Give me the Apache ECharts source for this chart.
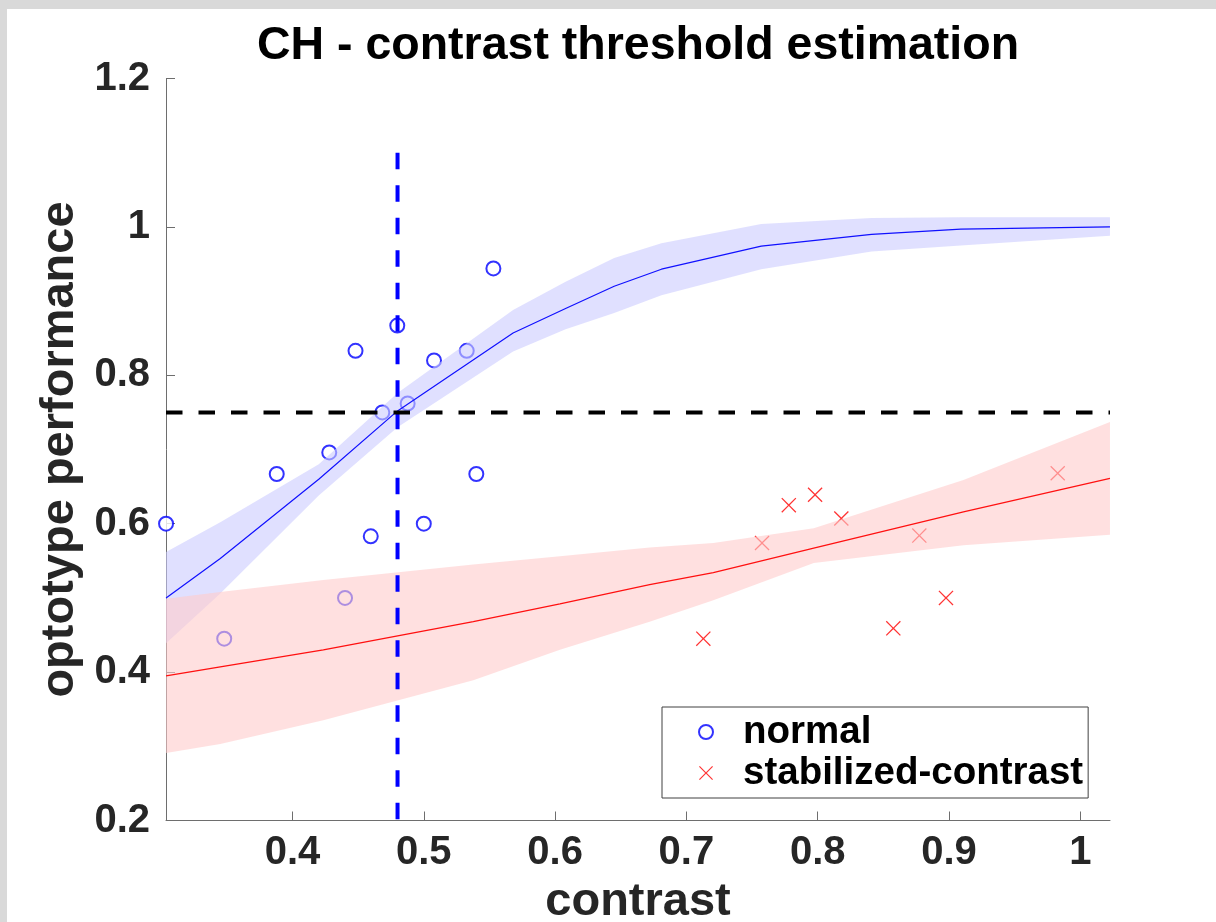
<!DOCTYPE html>
<html>
<head>
<meta charset="utf-8">
<script src="https://cdn.jsdelivr.net/npm/echarts@6/dist/echarts.min.js"></script>
<style>
  html, body { margin: 0; padding: 0; background: #d9d9d9; }
  #paper { position: absolute; left: 7px; top: 9px; width: 1209px; height: 913px; background: #ffffff; }
  #chart { position: absolute; left: 0; top: 0; width: 1216px; height: 922px; }
</style>
</head>
<body>
<div id="paper"></div>
<div id="chart"></div>
<script>
// ---------- data ----------
const titleText = 'CH - contrast threshold estimation';
const xName = 'contrast';
const yName = 'optotype performance';
const xRange = [0.30366, 1.02262];
const yRange = [0.2, 1.2];
const xTicks = [0.4, 0.5, 0.6, 0.7, 0.8, 0.9, 1];
const yTickStep = 0.2;

// observed points
const normalX = [0.3037, 0.348, 0.388, 0.428, 0.440, 0.448, 0.4596, 0.4684, 0.4798, 0.4877, 0.500, 0.5078, 0.5327, 0.540, 0.553];
const normalY = [0.600, 0.445, 0.667, 0.696, 0.500, 0.833, 0.583, 0.750, 0.867, 0.762, 0.600, 0.820, 0.833, 0.667, 0.944];
const stabX = [0.7129, 0.7576, 0.778, 0.798, 0.818, 0.8576, 0.8774, 0.8977, 0.9828];
const stabY = [0.445, 0.574, 0.625, 0.639, 0.607, 0.459, 0.584, 0.500, 0.668];

// fitted psychometric curve (normal) with confidence band
const normFitX  = [0.3037, 0.345, 0.420, 0.480, 0.568, 0.608, 0.645, 0.681, 0.757, 0.841, 0.909, 1.0226];
const normFitY  = [0.500, 0.553, 0.660, 0.752, 0.857, 0.890, 0.920, 0.943, 0.974, 0.990, 0.997, 1.000];
const normFitHi = [0.562, 0.602, 0.680, 0.776, 0.888, 0.926, 0.958, 0.978, 1.004, 1.012, 1.013, 1.013];
const normFitLo = [0.439, 0.506, 0.638, 0.730, 0.832, 0.862, 0.884, 0.908, 0.943, 0.967, 0.975, 0.988];

// fitted curve (stabilized-contrast) with confidence band
const stabFitX  = [0.3037, 0.345, 0.4235, 0.5377, 0.6037, 0.672, 0.7205, 0.797, 0.911, 1.0226];
const stabFitY  = [0.395, 0.407, 0.430, 0.468, 0.492, 0.518, 0.534, 0.567, 0.616, 0.661];
const stabFitHi = [0.499, 0.508, 0.524, 0.545, 0.556, 0.568, 0.574, 0.594, 0.659, 0.737];
const stabFitLo = [0.291, 0.303, 0.335, 0.389, 0.430, 0.468, 0.497, 0.547, 0.571, 0.585];

// threshold estimate
const thresholdX = 0.48;
const criterionY = 0.75;
const thresholdTop = 1.1;

// ---------- chart ----------
const FONT = "'Liberation Sans', Arial, Helvetica, sans-serif";
const zip = (a, b) => a.map((v, i) => [v, b[i]]);
const XMARK = 'path://M0,6L6,0L50,44L94,0L100,6L56,50L100,94L94,100L50,56L6,100L0,94L44,50Z';

function band(name, xs, lo, hi, fill) {
  return {
    type: 'custom', name: name, silent: true, z: 3,
    data: [[xs[0], lo[0]]],
    renderItem: function (params, api) {
      const pts = [];
      for (let i = 0; i < xs.length; i++) pts.push(api.coord([xs[i], hi[i]]));
      for (let i = xs.length - 1; i >= 0; i--) pts.push(api.coord([xs[i], lo[i]]));
      return { type: 'polygon', shape: { points: pts }, style: { fill: fill } };
    }
  };
}

const chart = echarts.init(document.getElementById('chart'), null, { renderer: 'canvas' });
chart.setOption({
  animation: false,
  backgroundColor: 'transparent',
  title: {
    text: titleText, left: 638, top: 23, padding: 0, textAlign: 'center',
    textStyle: { fontFamily: FONT, fontSize: 46.5, fontWeight: 'bold', color: '#000000', lineHeight: 47 }
  },
  grid: { left: 166, top: 78.5, width: 944, height: 742, containLabel: false, outerBoundsMode: 'none' },
  legend: {
    data: ['normal', 'stabilized-contrast'],
    orient: 'vertical', left: 662, top: 707,
    padding: [5, 5, 5, 36],
    itemWidth: 14, itemHeight: 14, itemGap: 1,
    borderColor: '#404040', borderWidth: 1, backgroundColor: '#ffffff',
    selectedMode: false,
    textStyle: { fontFamily: FONT, fontSize: 38.5, fontWeight: 'bold', color: '#000000', lineHeight: 40, padding: [0, 0, 0, 25] }
  },
  xAxis: {
    type: 'value', min: xRange[0], max: xRange[1],
    name: xName, nameLocation: 'middle', nameGap: 58,
    nameTextStyle: { fontFamily: FONT, fontSize: 47, fontWeight: 'bold', color: '#262626', lineHeight: 47 },
    axisLine: { show: true, lineStyle: { color: '#6e6e6e', width: 1 } },
    axisTick: { show: true, inside: true, length: 9, customValues: xTicks, lineStyle: { color: '#6e6e6e' } },
    axisLabel: {
      customValues: xTicks, margin: 12,
      fontFamily: FONT, fontSize: 40, fontWeight: 'bold', color: '#262626', lineHeight: 40,
      formatter: v => String(+(+v).toFixed(2))
    },
    splitLine: { show: false }
  },
  yAxis: {
    type: 'value', min: yRange[0], max: yRange[1], interval: yTickStep,
    name: yName, nameLocation: 'middle', nameGap: 74, nameRotate: 90,
    nameTextStyle: { fontFamily: FONT, fontSize: 47, fontWeight: 'bold', color: '#262626', lineHeight: 47 },
    axisLine: { show: true, lineStyle: { color: '#6e6e6e', width: 1 } },
    axisTick: { show: true, inside: true, length: 9, lineStyle: { color: '#6e6e6e' } },
    axisLabel: {
      margin: 16,
      fontFamily: FONT, fontSize: 40, fontWeight: 'bold', color: '#262626', lineHeight: 40,
      formatter: v => String(+(+v).toFixed(2))
    },
    splitLine: { show: false }
  },
  series: [
    {
      name: 'normal', type: 'scatter', z: 2,
      symbol: 'emptyCircle', symbolSize: 14,
      itemStyle: { color: '#0000ff', borderColor: '#0000ff', borderWidth: 1.2 },
      data: zip(normalX, normalY)
    },
    {
      name: 'stabilized-contrast', type: 'scatter', z: 2,
      symbol: XMARK, symbolSize: 15,
      itemStyle: { color: '#ff0000' },
      data: zip(stabX, stabY)
    },
    band('normal CI', normFitX, normFitLo, normFitHi, 'rgba(204,204,255,0.6)'),
    band('stabilized CI', stabFitX, stabFitLo, stabFitHi, 'rgba(255,204,204,0.6)'),
    {
      name: 'normal fit', type: 'line', z: 3.5, showSymbol: false, symbol: 'none', silent: true,
      lineStyle: { color: '#1010ff', width: 1.2 },
      data: zip(normFitX, normFitY)
    },
    {
      name: 'stabilized fit', type: 'line', z: 3.5, showSymbol: false, symbol: 'none', silent: true,
      lineStyle: { color: '#ff1010', width: 1.2 },
      data: zip(stabFitX, stabFitY)
    },
    {
      name: 'threshold', type: 'line', z: 4, symbol: 'none', silent: true,
      lineStyle: { color: '#0000ff', width: 4, type: [16.5, 16] },
      data: [[thresholdX, thresholdTop], [thresholdX, yRange[0]]]
    },
    {
      name: 'criterion', type: 'line', z: 4, symbol: 'none', silent: true,
      lineStyle: { color: '#000000', width: 4, type: [16.5, 16] },
      data: [[xRange[0], criterionY], [xRange[1], criterionY]]
    }
  ]
});
</script>
</body>
</html>
